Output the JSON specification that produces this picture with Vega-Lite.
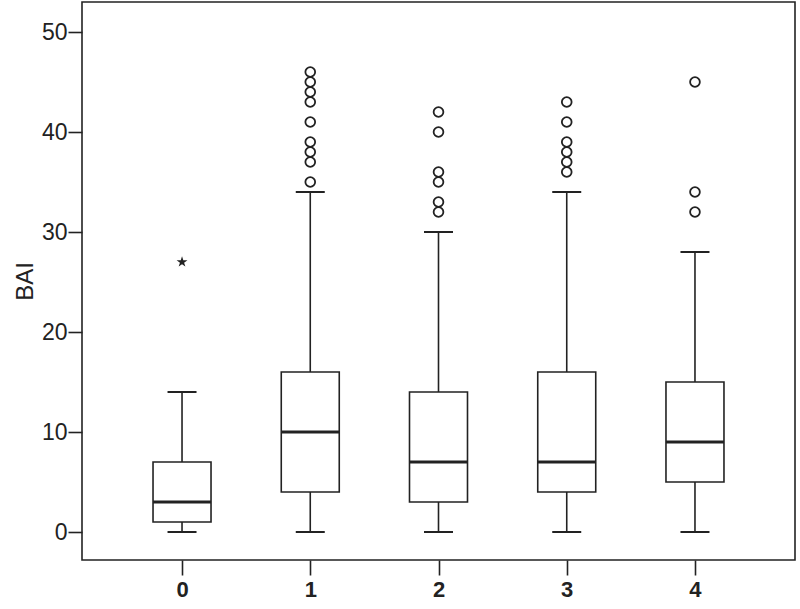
{
  "$schema": "https://vega.github.io/schema/vega-lite/v6.json",
  "autosize": {"type": "none"},
  "width": 713,
  "height": 558,
  "padding": {"left": 82, "top": 2, "right": 5, "bottom": 49},
  "background": "white",
  "config": {
    "view": {"stroke": "#222", "strokeWidth": 1.6},
    "font": "Liberation Sans",
    "axis": {"domain": false, "grid": false, "tickWidth": 1.6, "tickColor": "#222", "labelColor": "#222", "titleColor": "#222"},
    "axisY": {"tickSize": 14, "labelPadding": 1, "labelFontSize": 23, "titleFontSize": 24, "titleFontWeight": "normal", "titlePadding": 4},
    "axisX": {"tickSize": 15, "labelPadding": 4, "labelFontSize": 22, "labelFontWeight": "bold", "labelAngle": 0}
  },
  "datasets": {
    "boxes": [
      {"group": "0", "lower": 0, "q1": 1, "median": 3, "q3": 7, "upper": 14},
      {"group": "1", "lower": 0, "q1": 4, "median": 10, "q3": 16, "upper": 34},
      {"group": "2", "lower": 0, "q1": 3, "median": 7, "q3": 14, "upper": 30},
      {"group": "3", "lower": 0, "q1": 4, "median": 7, "q3": 16, "upper": 34},
      {"group": "4", "lower": 0, "q1": 5, "median": 9, "q3": 15, "upper": 28}
    ],
    "outliers": [
      {"group": "1", "BAI": 35},
      {"group": "1", "BAI": 37},
      {"group": "1", "BAI": 38},
      {"group": "1", "BAI": 39},
      {"group": "1", "BAI": 41},
      {"group": "1", "BAI": 43},
      {"group": "1", "BAI": 44},
      {"group": "1", "BAI": 45},
      {"group": "1", "BAI": 46},
      {"group": "2", "BAI": 32},
      {"group": "2", "BAI": 33},
      {"group": "2", "BAI": 35},
      {"group": "2", "BAI": 36},
      {"group": "2", "BAI": 40},
      {"group": "2", "BAI": 42},
      {"group": "3", "BAI": 36},
      {"group": "3", "BAI": 37},
      {"group": "3", "BAI": 38},
      {"group": "3", "BAI": 39},
      {"group": "3", "BAI": 41},
      {"group": "3", "BAI": 43},
      {"group": "4", "BAI": 32},
      {"group": "4", "BAI": 34},
      {"group": "4", "BAI": 45}
    ],
    "extremes": [
      {"group": "0", "BAI": 27}
    ]
  },
  "layer": [
    {
      "data": {"name": "boxes"},
      "mark": {"type": "rule", "stroke": "#222", "strokeWidth": 1.6},
      "encoding": {
        "x": {
          "field": "group",
          "type": "ordinal",
          "scale": {"type": "point", "domain": ["0", "1", "2", "3", "4"], "padding": 0.78},
          "axis": {"title": null, "orient": "bottom"}
        },
        "y": {
          "field": "q3",
          "type": "quantitative",
          "scale": {"domain": [-2.8, 53], "nice": false, "zero": false},
          "axis": {"title": "BAI", "values": [0, 10, 20, 30, 40, 50], "orient": "left"}
        },
        "y2": {"field": "upper"}
      }
    },
    {
      "data": {"name": "boxes"},
      "mark": {"type": "rule", "stroke": "#222", "strokeWidth": 1.6},
      "encoding": {
        "x": {"field": "group", "type": "ordinal"},
        "y": {"field": "lower", "type": "quantitative"},
        "y2": {"field": "q1"}
      }
    },
    {
      "data": {"name": "boxes"},
      "mark": {"type": "bar", "size": 58, "fill": "white", "stroke": "#222", "strokeWidth": 1.6},
      "encoding": {
        "x": {"field": "group", "type": "ordinal"},
        "y": {"field": "q1", "type": "quantitative"},
        "y2": {"field": "q3"}
      }
    },
    {
      "data": {"name": "boxes"},
      "mark": {"type": "tick", "orient": "horizontal", "size": 58, "thickness": 3, "color": "#222", "opacity": 1},
      "encoding": {
        "x": {"field": "group", "type": "ordinal"},
        "y": {"field": "median", "type": "quantitative"}
      }
    },
    {
      "data": {"name": "boxes"},
      "mark": {"type": "tick", "orient": "horizontal", "size": 29, "thickness": 2, "color": "#222", "opacity": 1},
      "encoding": {
        "x": {"field": "group", "type": "ordinal"},
        "y": {"field": "upper", "type": "quantitative"}
      }
    },
    {
      "data": {"name": "boxes"},
      "mark": {"type": "tick", "orient": "horizontal", "size": 29, "thickness": 2, "color": "#222", "opacity": 1},
      "encoding": {
        "x": {"field": "group", "type": "ordinal"},
        "y": {"field": "lower", "type": "quantitative"}
      }
    },
    {
      "data": {"name": "outliers"},
      "mark": {"type": "point", "shape": "circle", "filled": false, "size": 95, "stroke": "#222", "strokeWidth": 1.8, "opacity": 1},
      "encoding": {
        "x": {"field": "group", "type": "ordinal"},
        "y": {"field": "BAI", "type": "quantitative"}
      }
    },
    {
      "data": {"name": "extremes"},
      "mark": {"type": "point", "shape": "M0,-1L0.2245,-0.309L0.951,-0.309L0.363,0.118L0.588,0.809L0,0.382L-0.588,0.809L-0.363,0.118L-0.951,-0.309L-0.2245,-0.309Z", "filled": true, "size": 130, "fill": "#222", "strokeWidth": 0, "opacity": 1},
      "encoding": {
        "x": {"field": "group", "type": "ordinal"},
        "y": {"field": "BAI", "type": "quantitative"}
      }
    }
  ]
}
